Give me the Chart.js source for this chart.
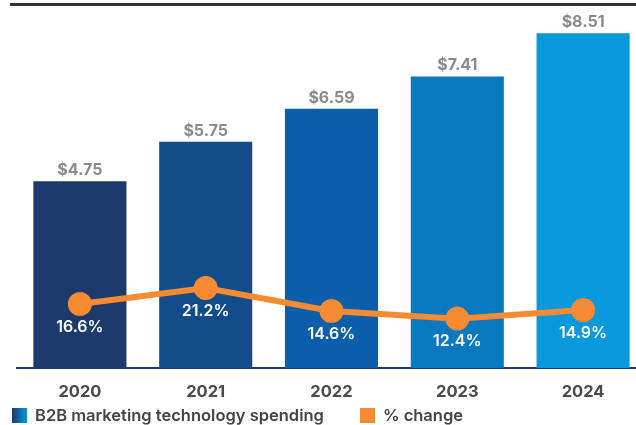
<!DOCTYPE html>
<html>
<head>
<meta charset="utf-8">
<script src="https://cdn.jsdelivr.net/npm/chart.js@4"></script>
<style>
  html, body { margin: 0; padding: 0; background: #fff; overflow: hidden; width: 636px; height: 425px; }
  #topRule { position: absolute; left: 10px; top: 3px; width: 626px; height: 3px; background: #333; }
  #wrap { position: absolute; left: 0; top: 0; width: 650px; height: 425px; }
  #legend { position: absolute; left: 12px; top: 405px; font-family: Inter, sans-serif; font-weight: 600; font-size: 16.5px; color: #444; display: flex; align-items: center; white-space: nowrap; }
  .box { display: inline-block; width: 15px; height: 15px; margin-right: 8px; }
  .item { display: flex; align-items: center; }
</style>
</head>
<body>
<div id="topRule"></div>
<div id="wrap"><canvas id="chart" width="650" height="425"></canvas></div>
<div id="legend">
  <span class="item"><span class="box" style="background: linear-gradient(90deg, #1d3a6c, #0a98dd);"></span>B2B marketing technology spending</span>
  <span class="item" style="margin-left: 36px;"><span class="box" style="background:#f68b33;"></span>% change</span>
</div>
<script>
const years = ['2020', '2021', '2022', '2023', '2024'];
const spending = [4.75, 5.75, 6.59, 7.41, 8.51];
const pctChange = [16.6, 21.2, 14.6, 12.4, 14.9];
const barColors = ['#1d3a6c', '#134c8a', '#0b5faa', '#0878c0', '#0898dc'];

const labelPlugin = {
  id: 'labels',
  afterDatasetsDraw(chart) {
    const ctx = chart.ctx;
    ctx.save();
    ctx.textAlign = 'center';
    ctx.textBaseline = 'middle';
    ctx.font = '700 16px Inter, sans-serif';
    ctx.fillStyle = '#8a8a8a';
    chart.getDatasetMeta(0).data.forEach((bar, i) => {
      ctx.fillText('$' + spending[i].toFixed(2), bar.x, bar.y - 11);
    });
    ctx.font = '600 16px Inter, sans-serif';
    ctx.fillStyle = '#ffffff';
    chart.getDatasetMeta(1).data.forEach((pt, i) => {
      ctx.fillText(pctChange[i].toFixed(1) + '%', pt.x, pt.y + 23);
    });
    ctx.restore();
  }
};

new Chart(document.getElementById('chart'), {
  type: 'bar',
  data: {
    labels: years,
    datasets: [{
      type: 'bar',
      label: 'B2B marketing technology spending',
      data: spending,
      backgroundColor: barColors,
      barPercentage: 0.74,
      categoryPercentage: 1,
      yAxisID: 'y',
      order: 1
    }, {
      type: 'line',
      label: '% change',
      data: pctChange,
      borderColor: '#f68b33',
      backgroundColor: '#f68b33',
      borderWidth: 6,
      pointRadius: 9,
      pointHoverRadius: 9,
      tension: 0,
      yAxisID: 'y2',
      order: 0
    }]
  },
  options: {
    responsive: false,
    animation: false,
    layout: { autoPadding: false, padding: { top: 14, left: 17, right: 4, bottom: 0 } },
    plugins: { legend: { display: false }, tooltip: { enabled: false } },
    scales: {
      x: {
        grid: { display: false },
        border: { display: true, color: '#1d3a6c', width: 2 },
        ticks: { color: '#4a4a4a', font: { family: 'Inter, sans-serif', size: 16.5, weight: '700' }, padding: 6 },
        afterFit(scale) { scale.height = 57; }
      },
      y: { display: false, min: 0, max: 9 },
      y2: { display: false, min: -1.8, max: 100 }
    }
  },
  plugins: [labelPlugin]
});
</script>
</body>
</html>
